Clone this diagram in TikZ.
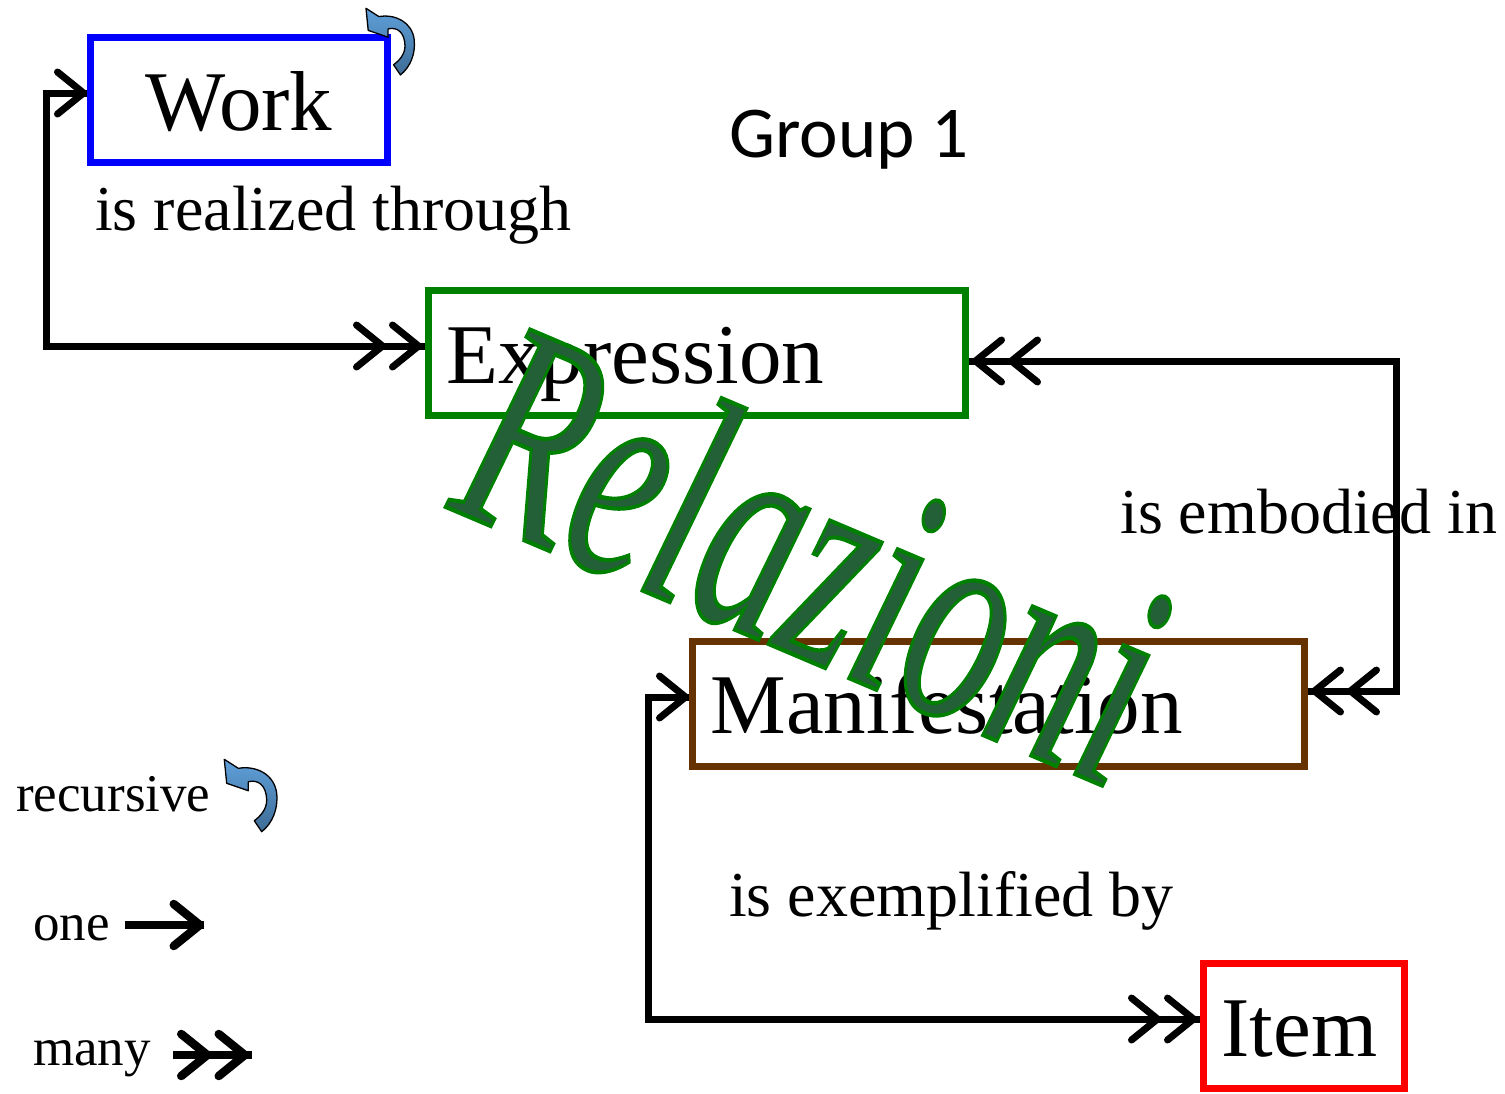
\documentclass[tikz,border=0pt]{standalone}
\usepackage{fontspec}
\usepackage{graphicx}
\setmainfont{Liberation Serif}
\newfontfamily\grpfont{Carlito}
\newfontfamily\relfont[FakeBold=1.4,FakeSlant=-0.1]{Liberation Serif Italic}
\usetikzlibrary{arrows.meta}
\definecolor{workblue}{RGB}{0,0,255}
\definecolor{exprgreen}{RGB}{0,128,0}
\definecolor{manbrown}{RGB}{102,51,0}
\definecolor{itemred}{RGB}{255,0,0}
\definecolor{relgreen}{RGB}{35,95,55}
\definecolor{iconlight}{RGB}{95,160,218}
\definecolor{icondark}{RGB}{62,108,150}
\tikzset{
  Sg/.tip={Straight Barb[length=26pt,width=42pt,round]},
  Db/.tip={Straight Barb[length=26pt,width=42pt,round,sep=3pt]Straight Barb[length=26pt,width=42pt,round,sep=3pt]},
  conn/.style={line width=7pt, preaction={draw,line width=7pt,-}},
  legconn/.style={line width=8.5pt, preaction={draw,line width=8.5pt,-}},
  box/.style={draw, line width=7pt, rectangle, inner xsep=18pt, inner ysep=0pt,
    minimum height=125pt, text height=60pt, text depth=0pt,
    font=\fontsize{85}{85}\selectfont},
  lab/.style={anchor=base west, inner sep=0pt, font=\fontsize{64}{64}\selectfont},
  leg/.style={anchor=base west, inner sep=0pt, font=\fontsize{53}{53}\selectfont},
  recarrow/.pic={
    \path[draw=black, line width=1.3pt, top color=iconlight, bottom color=icondark, line join=round]
      (0,0) -- (2.4,24) -- (24,31.4) -- (24,22.4)
      .. controls (34,20) and (42,26) .. (42.4,40.7)
      .. controls (42.5,50) and (36,57) .. (30,61.4)
      -- (37.4,72.4)
      .. controls (48,64) and (54,50) .. (52.4,34)
      .. controls (50,15) and (32,6) .. (14,9)
      -- cycle;
  }
}
\begin{document}
\begin{tikzpicture}[x=1pt,y=-1pt]
\useasboundingbox (0,0) rectangle (1505,1093);

% boxes
\node[box, draw=workblue, text width=261pt, align=center] (work) at (239,100) {Work};
\node[box, draw=exprgreen, text width=501pt, align=left] (expr) at (697,353) {Expression};
\node[box, draw=manbrown, text width=576pt, align=left] (man) at (998.5,703.5) {Manifestation};
\node[box, draw=itemred, text width=165pt, align=left] (item) at (1304,1026) {Item};

% title
\node[anchor=base west, inner sep=0pt, font=\grpfont\fontsize{73}{73}\selectfont] (grp) at (729,157) {Group 1};

% relationship labels
\node[lab] (lreal) at (95,230) {is realized through};
\node[lab] (lemb) at (1120,533) {is embodied in};
\node[lab] (lexe) at (729,916) {is exemplified by};

% connectors
\coordinate (w1) at (46,93);
\coordinate (w2) at (46,346);
\draw[conn, {Sg}-{Db}] (work.west |- w1) -- (w1) -- (w2) -- (expr.west |- w2);

\coordinate (r1) at (1396,361);
\coordinate (r2) at (1396,691);
\draw[conn, {Db}-{Db}] (expr.east |- r1) -- (r1) -- (r2) -- (man.east |- r2);

\coordinate (m1) at (648,697);
\coordinate (m2) at (648,1019);
\draw[conn, {Sg}-{Db}] (man.west |- m1) -- (m1) -- (m2) -- (item.west |- m2);

% recursive icon on Work
\pic[scale=0.92] (workrec) at (366,8.3) {recarrow};

% legend
\node[leg] (lrec) at (16,811) {recursive};
\pic (legrec) at (224.3,759.3) {recarrow};
\node[leg] (lone) at (33,940) {one};
\coordinate (o1) at (125,925);
\coordinate (o2) at (204,925);
\draw[legconn, -{Sg}] (o1) -- (o2);
\node[leg] (lmany) at (33,1065) {many};
\coordinate (n1) at (173,1055);
\coordinate (n2) at (252,1055);
\draw[legconn, -{Db}] (n1) -- (n2);

% watermark
\node[anchor=base west, inner sep=0pt, rotate=-23, text=relgreen,
  font=\relfont\fontsize{192}{192}\selectfont] (rel) at (446,507) {\special{pdf:code 0 0.5 0 RG}\scalebox{1}[1.56]{Relazioni}};
\end{tikzpicture}
\end{document}
